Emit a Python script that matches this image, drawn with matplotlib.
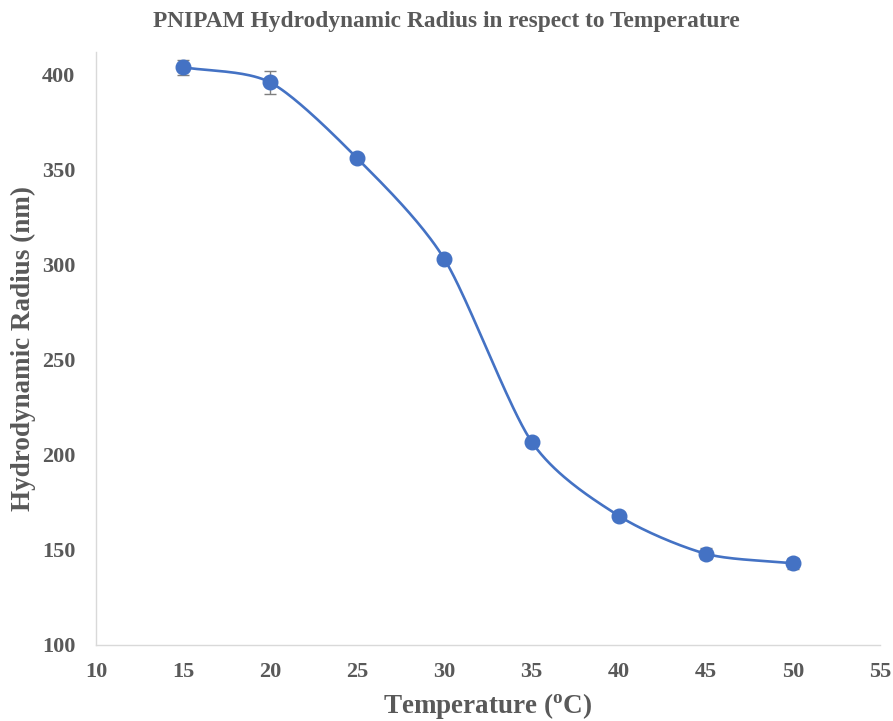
import numpy as np
import matplotlib
matplotlib.use("Agg")
import matplotlib.pyplot as plt

temperature = [15, 20, 25, 30, 35, 40, 45, 50]
radius = [404, 396, 356, 303, 207, 168, 148, 143]
radius_err = [4, 6, 2, 2, 2, 2, 3, 3]

x_ticks = [10, 15, 20, 25, 30, 35, 40, 45, 50, 55]
y_ticks = [100, 150, 200, 250, 300, 350, 400]

BLUE = "#4472C4"
TEXT = "#595959"
SPINE = "#D9D9D9"


def smooth_curve(x, y, n=40):
    """Catmull-Rom style smoothing through the data points."""
    x = np.asarray(x, float)
    y = np.asarray(y, float)
    px = np.concatenate([[2 * x[0] - x[1]], x, [2 * x[-1] - x[-2]]])
    py = np.concatenate([[2 * y[0] - y[1]], y, [2 * y[-1] - y[-2]]])
    xs, ys = [], []
    t = np.linspace(0, 1, n)
    for i in range(1, len(px) - 2):
        p0, p1, p2, p3 = (np.array([px[j], py[j]]) for j in range(i - 1, i + 3))
        m1 = (p2 - p0) / 2 * 0.8
        m2 = (p3 - p1) / 2 * 0.8
        h00 = 2 * t**3 - 3 * t**2 + 1
        h10 = t**3 - 2 * t**2 + t
        h01 = -2 * t**3 + 3 * t**2
        h11 = t**3 - t**2
        pts = np.outer(h00, p1) + np.outer(h10, m1) + np.outer(h01, p2) + np.outer(h11, m2)
        xs.extend(pts[:, 0])
        ys.extend(pts[:, 1])
    return np.array(xs), np.array(ys)


plt.rcParams["font.family"] = ["Liberation Serif", "DejaVu Serif"]
plt.rcParams["font.weight"] = "bold"
plt.rcParams["mathtext.default"] = "regular"

fig = plt.figure(figsize=(8.93, 7.21), dpi=100)
ax = fig.add_axes([96 / 893, 76 / 721, 784 / 893, 593 / 721])

sx, sy = smooth_curve(temperature, radius)
ax.plot(sx, sy, color=BLUE, lw=1.9, zorder=2)
ax.errorbar(temperature, radius, yerr=radius_err, fmt="none", ecolor="#7F7F7F",
            elinewidth=1.0, capsize=4, capthick=1.0, zorder=3)
ax.plot(temperature, radius, "o", color=BLUE, ms=10.5, zorder=4)

ax.set_xlim(10, 55)
ax.set_ylim(100, 412)
ax.set_xticks(x_ticks)
ax.set_yticks(y_ticks)
ax.tick_params(length=0, labelsize=16, labelcolor=TEXT)
ax.tick_params(axis="x", pad=12)
ax.tick_params(axis="y", pad=15)
for lab in ax.get_xticklabels() + ax.get_yticklabels():
    lab.set_fontweight("bold")

for side in ("top", "right"):
    ax.spines[side].set_visible(False)
for side in ("left", "bottom"):
    ax.spines[side].set_color(SPINE)
    ax.spines[side].set_linewidth(1.0)

ax.set_xlabel("Temperature ($^{o}$C)", fontsize=19.5, fontweight="bold", color=TEXT,
              va="baseline")
ax.xaxis.set_label_coords(0.5, -0.1147)
ax.set_ylabel("Hydrodynamic Radius (nm)", fontsize=19.5, fontweight="bold", color=TEXT,
              va="center")
ax.yaxis.set_label_coords(-0.092, 0.5)

fig.text(0.5, 1 - 22 / 721, "PNIPAM Hydrodynamic Radius in respect to Temperature",
         ha="center", va="center", fontsize=16.8, fontweight="bold", color=TEXT)

fig.savefig("out.png", dpi=100)
